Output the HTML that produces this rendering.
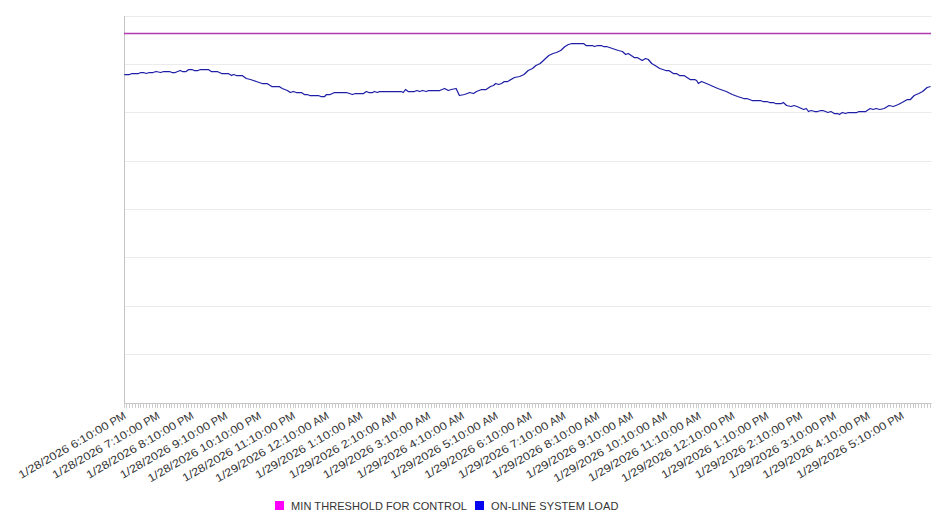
<!DOCTYPE html><html><head><meta charset="utf-8"><style>html,body{margin:0;padding:0;background:#fff;width:946px;height:526px;overflow:hidden}svg{display:block}text{font-family:"Liberation Sans",sans-serif}</style></head><body>
<svg width="946" height="526" viewBox="0 0 946 526">
<rect width="946" height="526" fill="#fff"/>
<path d="M124 16.5H931.5M124 64.5H931.5M124 112.5H931.5M124 161.5H931.5M124 209.5H931.5M124 257.5H931.5M124 306.5H931.5M124 354.5H931.5" stroke="#ebebeb" stroke-width="1" fill="none"/>
<path d="M124.5 16V403.5M124 403.5H931.5" stroke="#c4c4c4" stroke-width="1" fill="none"/>
<path d="M124.5 403V408M126.5 403V408M129.5 403V408M132.5 403V408M135.5 403V408M138.5 403V408M140.5 403V408M143.5 403V408M146.5 403V408M149.5 403V408M152.5 403V408M155.5 403V408M157.5 403V408M160.5 403V408M163.5 403V408M166.5 403V408M169.5 403V408M171.5 403V408M174.5 403V408M177.5 403V408M180.5 403V408M183.5 403V408M186.5 403V408M188.5 403V408M191.5 403V408M194.5 403V408M197.5 403V408M200.5 403V408M202.5 403V408M205.5 403V408M208.5 403V408M211.5 403V408M214.5 403V408M217.5 403V408M219.5 403V408M222.5 403V408M225.5 403V408M228.5 403V408M231.5 403V408M233.5 403V408M236.5 403V408M239.5 403V408M242.5 403V408M245.5 403V408M248.5 403V408M250.5 403V408M253.5 403V408M256.5 403V408M259.5 403V408M262.5 403V408M264.5 403V408M267.5 403V408M270.5 403V408M273.5 403V408M276.5 403V408M279.5 403V408M281.5 403V408M284.5 403V408M287.5 403V408M290.5 403V408M293.5 403V408M295.5 403V408M298.5 403V408M301.5 403V408M304.5 403V408M307.5 403V408M310.5 403V408M312.5 403V408M315.5 403V408M318.5 403V408M321.5 403V408M324.5 403V408M326.5 403V408M329.5 403V408M332.5 403V408M335.5 403V408M338.5 403V408M341.5 403V408M343.5 403V408M346.5 403V408M349.5 403V408M352.5 403V408M355.5 403V408M357.5 403V408M360.5 403V408M363.5 403V408M366.5 403V408M369.5 403V408M372.5 403V408M374.5 403V408M377.5 403V408M380.5 403V408M383.5 403V408M386.5 403V408M388.5 403V408M391.5 403V408M394.5 403V408M397.5 403V408M400.5 403V408M403.5 403V408M405.5 403V408M408.5 403V408M411.5 403V408M414.5 403V408M417.5 403V408M419.5 403V408M422.5 403V408M425.5 403V408M428.5 403V408M431.5 403V408M434.5 403V408M436.5 403V408M439.5 403V408M442.5 403V408M445.5 403V408M448.5 403V408M450.5 403V408M453.5 403V408M456.5 403V408M459.5 403V408M462.5 403V408M465.5 403V408M467.5 403V408M470.5 403V408M473.5 403V408M476.5 403V408M479.5 403V408M481.5 403V408M484.5 403V408M487.5 403V408M490.5 403V408M493.5 403V408M496.5 403V408M498.5 403V408M501.5 403V408M504.5 403V408M507.5 403V408M510.5 403V408M512.5 403V408M515.5 403V408M518.5 403V408M521.5 403V408M524.5 403V408M527.5 403V408M529.5 403V408M532.5 403V408M535.5 403V408M538.5 403V408M541.5 403V408M543.5 403V408M546.5 403V408M549.5 403V408M552.5 403V408M555.5 403V408M558.5 403V408M560.5 403V408M563.5 403V408M566.5 403V408M569.5 403V408M572.5 403V408M574.5 403V408M577.5 403V408M580.5 403V408M583.5 403V408M586.5 403V408M589.5 403V408M591.5 403V408M594.5 403V408M597.5 403V408M600.5 403V408M603.5 403V408M605.5 403V408M608.5 403V408M611.5 403V408M614.5 403V408M617.5 403V408M620.5 403V408M622.5 403V408M625.5 403V408M628.5 403V408M631.5 403V408M634.5 403V408M636.5 403V408M639.5 403V408M642.5 403V408M645.5 403V408M648.5 403V408M651.5 403V408M653.5 403V408M656.5 403V408M659.5 403V408M662.5 403V408M665.5 403V408M667.5 403V408M670.5 403V408M673.5 403V408M676.5 403V408M679.5 403V408M682.5 403V408M684.5 403V408M687.5 403V408M690.5 403V408M693.5 403V408M696.5 403V408M698.5 403V408M701.5 403V408M704.5 403V408M707.5 403V408M710.5 403V408M713.5 403V408M715.5 403V408M718.5 403V408M721.5 403V408M724.5 403V408M727.5 403V408M729.5 403V408M732.5 403V408M735.5 403V408M738.5 403V408M741.5 403V408M744.5 403V408M746.5 403V408M749.5 403V408M752.5 403V408M755.5 403V408M758.5 403V408M760.5 403V408M763.5 403V408M766.5 403V408M769.5 403V408M772.5 403V408M775.5 403V408M777.5 403V408M780.5 403V408M783.5 403V408M786.5 403V408M789.5 403V408M791.5 403V408M794.5 403V408M797.5 403V408M800.5 403V408M803.5 403V408M806.5 403V408M808.5 403V408M811.5 403V408M814.5 403V408M817.5 403V408M820.5 403V408M822.5 403V408M825.5 403V408M828.5 403V408M831.5 403V408M834.5 403V408M837.5 403V408M839.5 403V408M842.5 403V408M845.5 403V408M848.5 403V408M851.5 403V408M853.5 403V408M856.5 403V408M859.5 403V408M862.5 403V408M865.5 403V408M868.5 403V408M870.5 403V408M873.5 403V408M876.5 403V408M879.5 403V408M882.5 403V408M884.5 403V408M887.5 403V408M890.5 403V408M893.5 403V408M896.5 403V408M899.5 403V408M901.5 403V408M904.5 403V408M907.5 403V408M910.5 403V408M913.5 403V408M915.5 403V408M918.5 403V408M921.5 403V408M924.5 403V408M927.5 403V408M930.5 403V408" stroke="#cccccc" stroke-width="1" fill="none"/>
<path d="M124 33.5H931" stroke="#b03ab0" stroke-width="1.5" fill="none"/>
<path d="M124.3,74.5 124.8,74.5 129.5,74.5 132.0,73.5 138.4,73.5 141.0,72.5 143.5,72.5 146.3,73.5 149.2,72.5 153.0,72.5 156.1,71.5 160.6,72.5 163.8,71.5 169.5,71.5 172.0,72.5 175.2,72.5 180.2,70.5 182.4,71.5 186.1,71.5 188.7,69.5 192.0,69.5 194.2,70.5 197.9,70.5 200.5,69.5 208.3,69.5 211.3,71.5 217.2,71.5 221.6,73.5 228.3,73.5 231.6,75.5 233.5,74.5 236.4,75.5 242.2,75.5 246.3,78.5 250.4,79.5 256.3,81.5 262.2,83.5 267.0,83.5 271.8,86.5 279.2,86.5 282.2,88.5 287.4,90.5 290.3,92.5 293.3,91.5 296.3,92.5 301.4,92.5 304.4,94.5 307.2,94.5 309.8,95.5 318.3,95.5 320.9,96.5 324.6,96.5 326.5,94.5 330.2,94.5 334.6,92.5 346.5,92.5 349.4,93.5 352.4,94.5 355.3,93.5 363.5,93.5 366.4,91.5 368.7,92.5 372.6,92.5 374.4,91.5 377.4,92.5 379.6,91.5 401.1,91.5 403.3,92.5 405.5,89.5 408.1,91.5 414.4,91.5 417.0,90.5 419.6,91.5 422.6,90.5 426.3,91.5 428.5,90.5 439.8,90.5 444.6,88.5 448.3,90.5 451.3,89.5 456.1,88.5 459.4,95.5 464.6,94.5 469.8,92.5 473.5,93.5 476.5,91.5 481.6,89.5 486.1,89.5 490.5,86.5 493.5,85.5 495.7,83.5 498.7,84.5 501.6,83.5 504.3,81.5 507.7,81.5 514.5,77.5 519.7,76.5 524.0,74.5 528.2,70.5 532.5,68.5 535.9,65.5 540.2,63.5 544.5,59.5 548.8,55.5 553.0,53.5 556.5,52.5 560.7,50.5 565.0,46.5 568.4,44.5 572.0,43.5 583.5,43.5 586.1,45.5 592.4,45.5 594.6,46.5 597.6,45.5 601.3,45.5 603.5,46.5 606.5,46.5 612.4,48.5 618.3,50.5 622.4,51.5 625.7,54.5 628.3,53.5 634.2,57.5 637.2,57.5 642.2,60.5 645.6,58.5 648.3,59.5 651.7,63.5 655.1,65.5 659.7,68.5 665.8,70.5 668.8,70.5 673.4,73.5 676.4,73.5 679.5,75.5 684.0,75.5 690.1,79.5 694.7,79.5 696.6,80.5 698.4,83.5 701.5,81.5 706.4,83.5 711.0,85.5 717.8,88.5 726.2,91.5 732.3,94.5 737.6,96.5 743.7,98.5 746.8,98.5 752.1,100.5 760.4,100.5 763.0,101.5 767.0,101.5 769.6,102.5 773.3,102.5 775.5,103.5 781.5,103.5 783.3,102.5 786.6,105.5 791.1,106.5 794.0,105.5 797.0,106.5 801.5,108.5 803.7,109.5 806.3,108.5 808.5,111.5 811.1,110.5 814.8,111.5 817.7,111.5 820.7,110.5 822.9,110.5 828.0,112.5 830.9,111.5 834.3,113.5 837.6,113.5 839.4,114.5 842.4,112.5 845.4,113.5 848.3,112.5 856.8,112.5 859.0,111.5 865.7,111.5 870.2,108.5 873.1,109.5 876.1,108.5 879.8,109.5 884.2,108.5 889.1,105.5 893.3,106.5 898.3,104.5 902.1,102.5 907.4,99.5 910.4,99.5 914.2,95.5 918.8,93.5 922.6,91.5 927.1,87.5 930.6,86.5" stroke="#1e1ea6" stroke-width="1.25" fill="none" stroke-linejoin="round"/>
<g transform="translate(126.80 418.00) rotate(-30)" font-size="11.1" fill="#333"><text x="0" y="0" text-anchor="end" transform="scale(1.0 1)">PM</text><text x="0" y="0" text-anchor="end" transform="translate(-19.6 0) scale(1.144 1)">1/28/2026 6:10:00</text></g>
<g transform="translate(160.62 418.00) rotate(-30)" font-size="11.1" fill="#333"><text x="0" y="0" text-anchor="end" transform="scale(1.0 1)">PM</text><text x="0" y="0" text-anchor="end" transform="translate(-19.6 0) scale(1.144 1)">1/28/2026 7:10:00</text></g>
<g transform="translate(194.44 418.00) rotate(-30)" font-size="11.1" fill="#333"><text x="0" y="0" text-anchor="end" transform="scale(1.0 1)">PM</text><text x="0" y="0" text-anchor="end" transform="translate(-19.6 0) scale(1.144 1)">1/28/2026 8:10:00</text></g>
<g transform="translate(228.26 418.00) rotate(-30)" font-size="11.1" fill="#333"><text x="0" y="0" text-anchor="end" transform="scale(1.0 1)">PM</text><text x="0" y="0" text-anchor="end" transform="translate(-19.6 0) scale(1.144 1)">1/28/2026 9:10:00</text></g>
<g transform="translate(262.08 418.00) rotate(-30)" font-size="11.1" fill="#333"><text x="0" y="0" text-anchor="end" transform="scale(1.0 1)">PM</text><text x="0" y="0" text-anchor="end" transform="translate(-19.6 0) scale(1.144 1)">1/28/2026 10:10:00</text></g>
<g transform="translate(295.90 418.00) rotate(-30)" font-size="11.1" fill="#333"><text x="0" y="0" text-anchor="end" transform="scale(1.0 1)">PM</text><text x="0" y="0" text-anchor="end" transform="translate(-19.6 0) scale(1.144 1)">1/28/2026 11:10:00</text></g>
<g transform="translate(329.72 418.00) rotate(-30)" font-size="11.1" fill="#333"><text x="0" y="0" text-anchor="end" transform="scale(1.0 1)">AM</text><text x="0" y="0" text-anchor="end" transform="translate(-19.6 0) scale(1.144 1)">1/29/2026 12:10:00</text></g>
<g transform="translate(363.54 418.00) rotate(-30)" font-size="11.1" fill="#333"><text x="0" y="0" text-anchor="end" transform="scale(1.0 1)">AM</text><text x="0" y="0" text-anchor="end" transform="translate(-19.6 0) scale(1.144 1)">1/29/2026 1:10:00</text></g>
<g transform="translate(397.36 418.00) rotate(-30)" font-size="11.1" fill="#333"><text x="0" y="0" text-anchor="end" transform="scale(1.0 1)">AM</text><text x="0" y="0" text-anchor="end" transform="translate(-19.6 0) scale(1.144 1)">1/29/2026 2:10:00</text></g>
<g transform="translate(431.18 418.00) rotate(-30)" font-size="11.1" fill="#333"><text x="0" y="0" text-anchor="end" transform="scale(1.0 1)">AM</text><text x="0" y="0" text-anchor="end" transform="translate(-19.6 0) scale(1.144 1)">1/29/2026 3:10:00</text></g>
<g transform="translate(465.00 418.00) rotate(-30)" font-size="11.1" fill="#333"><text x="0" y="0" text-anchor="end" transform="scale(1.0 1)">AM</text><text x="0" y="0" text-anchor="end" transform="translate(-19.6 0) scale(1.144 1)">1/29/2026 4:10:00</text></g>
<g transform="translate(498.82 418.00) rotate(-30)" font-size="11.1" fill="#333"><text x="0" y="0" text-anchor="end" transform="scale(1.0 1)">AM</text><text x="0" y="0" text-anchor="end" transform="translate(-19.6 0) scale(1.144 1)">1/29/2026 5:10:00</text></g>
<g transform="translate(532.64 418.00) rotate(-30)" font-size="11.1" fill="#333"><text x="0" y="0" text-anchor="end" transform="scale(1.0 1)">AM</text><text x="0" y="0" text-anchor="end" transform="translate(-19.6 0) scale(1.144 1)">1/29/2026 6:10:00</text></g>
<g transform="translate(566.46 418.00) rotate(-30)" font-size="11.1" fill="#333"><text x="0" y="0" text-anchor="end" transform="scale(1.0 1)">AM</text><text x="0" y="0" text-anchor="end" transform="translate(-19.6 0) scale(1.144 1)">1/29/2026 7:10:00</text></g>
<g transform="translate(600.28 418.00) rotate(-30)" font-size="11.1" fill="#333"><text x="0" y="0" text-anchor="end" transform="scale(1.0 1)">AM</text><text x="0" y="0" text-anchor="end" transform="translate(-19.6 0) scale(1.144 1)">1/29/2026 8:10:00</text></g>
<g transform="translate(634.10 418.00) rotate(-30)" font-size="11.1" fill="#333"><text x="0" y="0" text-anchor="end" transform="scale(1.0 1)">AM</text><text x="0" y="0" text-anchor="end" transform="translate(-19.6 0) scale(1.144 1)">1/29/2026 9:10:00</text></g>
<g transform="translate(667.92 418.00) rotate(-30)" font-size="11.1" fill="#333"><text x="0" y="0" text-anchor="end" transform="scale(1.0 1)">AM</text><text x="0" y="0" text-anchor="end" transform="translate(-19.6 0) scale(1.144 1)">1/29/2026 10:10:00</text></g>
<g transform="translate(701.74 418.00) rotate(-30)" font-size="11.1" fill="#333"><text x="0" y="0" text-anchor="end" transform="scale(1.0 1)">AM</text><text x="0" y="0" text-anchor="end" transform="translate(-19.6 0) scale(1.144 1)">1/29/2026 11:10:00</text></g>
<g transform="translate(735.56 418.00) rotate(-30)" font-size="11.1" fill="#333"><text x="0" y="0" text-anchor="end" transform="scale(1.0 1)">PM</text><text x="0" y="0" text-anchor="end" transform="translate(-19.6 0) scale(1.144 1)">1/29/2026 12:10:00</text></g>
<g transform="translate(769.38 418.00) rotate(-30)" font-size="11.1" fill="#333"><text x="0" y="0" text-anchor="end" transform="scale(1.0 1)">PM</text><text x="0" y="0" text-anchor="end" transform="translate(-19.6 0) scale(1.144 1)">1/29/2026 1:10:00</text></g>
<g transform="translate(803.20 418.00) rotate(-30)" font-size="11.1" fill="#333"><text x="0" y="0" text-anchor="end" transform="scale(1.0 1)">PM</text><text x="0" y="0" text-anchor="end" transform="translate(-19.6 0) scale(1.144 1)">1/29/2026 2:10:00</text></g>
<g transform="translate(837.02 418.00) rotate(-30)" font-size="11.1" fill="#333"><text x="0" y="0" text-anchor="end" transform="scale(1.0 1)">PM</text><text x="0" y="0" text-anchor="end" transform="translate(-19.6 0) scale(1.144 1)">1/29/2026 3:10:00</text></g>
<g transform="translate(870.84 418.00) rotate(-30)" font-size="11.1" fill="#333"><text x="0" y="0" text-anchor="end" transform="scale(1.0 1)">PM</text><text x="0" y="0" text-anchor="end" transform="translate(-19.6 0) scale(1.144 1)">1/29/2026 4:10:00</text></g>
<g transform="translate(904.66 418.00) rotate(-30)" font-size="11.1" fill="#333"><text x="0" y="0" text-anchor="end" transform="scale(1.0 1)">PM</text><text x="0" y="0" text-anchor="end" transform="translate(-19.6 0) scale(1.144 1)">1/29/2026 5:10:00</text></g>
<rect x="275" y="501" width="9" height="9" fill="#ff00ff"/>
<rect x="475" y="501" width="9" height="9" fill="#0505f0"/>
<text x="291" y="510" font-size="11" letter-spacing="0.08" fill="#333">MIN THRESHOLD FOR CONTROL</text>
<text x="491" y="510" font-size="11" letter-spacing="0.08" fill="#333">ON-LINE SYSTEM LOAD</text>
</svg></body></html>
